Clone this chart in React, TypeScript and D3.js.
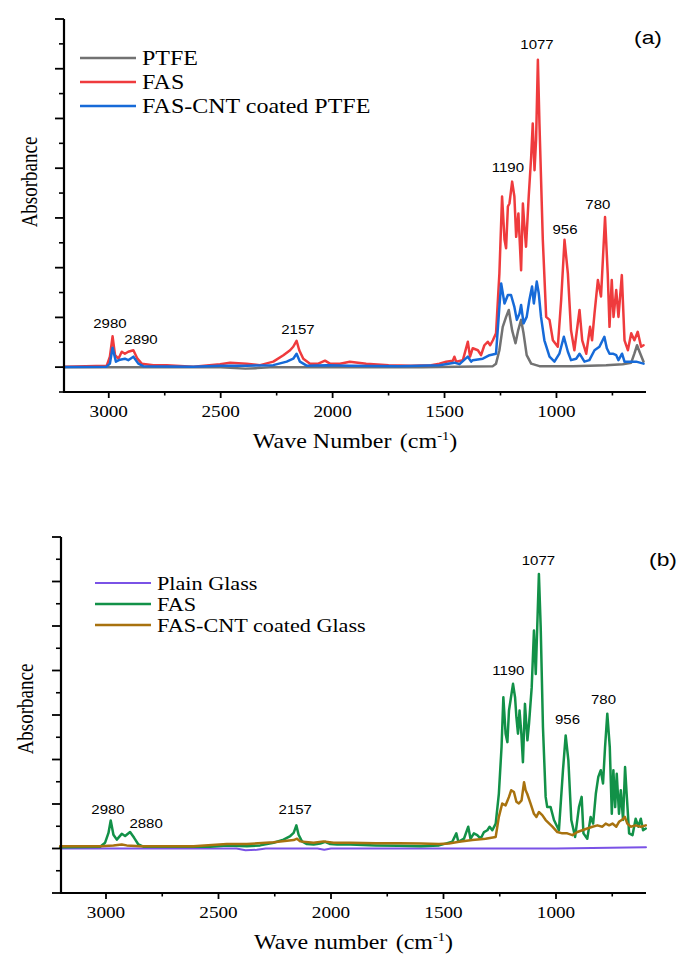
import React from 'react';
import * as d3 from 'd3';

type Pt = [number, number];

// ---- panel (a): PTFE ----
const ptfeA: Pt[] = [
  [3200, 0], [2500, 0], [2390, -0.03], [2340, -0.02], [2280, 0], [1600, 0], [1284, 0.02],
  [1270, 0.07], [1255, 0.34], [1240, 0.81], [1225, 1.01], [1213, 1.15], [1198, 0.74], [1183, 0.48],
  [1171, 0.74], [1158, 0.95], [1147, 0.68], [1133, 0.24], [1113, 0.07], [1076, 0.02], [927, 0.02],
  [778, 0.04], [704, 0.06], [666, 0.09], [652, 0.27], [640, 0.44], [629, 0.31], [611, 0.11],
];

const fasA: Pt[] = [
  [3200, 0.01], [3009, 0.03], [2995, 0.21], [2983, 0.62], [2972, 0.24], [2957, 0.17], [2942, 0.31],
  [2928, 0.27], [2913, 0.31], [2890, 0.34], [2872, 0.17], [2853, 0.07], [2801, 0.04], [2741, 0.04],
  [2622, 0.01], [2503, 0.06], [2458, 0.09], [2384, 0.07], [2324, 0.04], [2265, 0.11], [2220, 0.24],
  [2190, 0.34], [2176, 0.41], [2161, 0.53], [2149, 0.34], [2131, 0.17], [2101, 0.07], [2064, 0.07],
  [2034, 0.13], [2012, 0.07], [1967, 0.07], [1923, 0.11], [1850, 0.07], [1750, 0.04], [1650, 0.03],
  [1560, 0.04], [1523, 0.07], [1493, 0.11], [1463, 0.13], [1456, 0.21], [1448, 0.11], [1418, 0.14],
  [1396, 0.51], [1386, 0.21], [1374, 0.38], [1351, 0.34], [1337, 0.24], [1322, 0.44], [1307, 0.51],
  [1296, 0.44], [1284, 0.54], [1270, 0.68], [1255, 1.88], [1243, 3.43], [1232, 2.56], [1225, 2.39],
  [1217, 3.23], [1210, 3.29], [1198, 3.73], [1188, 3.43], [1180, 2.62], [1170, 3.09], [1158, 1.95],
  [1150, 3.29], [1143, 2.82], [1136, 2.42], [1124, 3.43], [1113, 4.23], [1106, 4.9], [1098, 3.96],
  [1091, 4.57], [1083, 6.18], [1076, 4.9], [1061, 2.56], [1046, 1.01], [1031, 0.95], [1016, 0.54],
  [994, 0.41], [979, 1.35], [964, 2.56], [949, 1.88], [935, 0.74], [920, 0.34], [897, 1.15],
  [885, 0.54], [867, 0.27], [850, 0.81], [841, 0.54], [830, 1.08], [815, 1.75], [801, 1.42],
  [783, 3.02], [771, 1.88], [763, 0.81], [753, 1.75], [745, 1.01], [733, 1.55], [723, 1.01],
  [708, 1.85], [696, 0.54], [681, 0.34], [666, 0.68], [652, 0.54], [637, 0.71], [622, 0.41], [611, 0.44],
];

const cntPtfeA: Pt[] = [
  [3200, 0.005], [3010, 0.01], [2995, 0.07], [2983, 0.39], [2968, 0.11], [2950, 0.15], [2928, 0.17],
  [2913, 0.14], [2890, 0.21], [2868, 0.07], [2846, 0.02], [2622, 0.01], [2503, 0.03], [2384, 0.03],
  [2265, 0.04], [2205, 0.11], [2176, 0.17], [2161, 0.27], [2146, 0.11], [2116, 0.03], [2027, 0.04],
  [1923, 0.03], [1700, 0.02], [1523, 0.04], [1456, 0.09], [1433, 0.06], [1396, 0.21], [1381, 0.11],
  [1374, 0.14], [1329, 0.17], [1299, 0.24], [1270, 0.27], [1255, 1.21], [1247, 1.68], [1232, 1.28],
  [1217, 1.45], [1203, 1.45], [1188, 1.21], [1177, 0.95], [1165, 1.08], [1158, 1.25], [1147, 0.88],
  [1133, 1.01], [1121, 1.35], [1109, 1.62], [1101, 1.28], [1088, 1.72], [1079, 1.48], [1069, 1.01],
  [1054, 0.54], [1031, 0.21], [1009, 0.11], [987, 0.27], [967, 0.61], [949, 0.31], [935, 0.14],
  [912, 0.17], [897, 0.27], [875, 0.11], [853, 0.14], [830, 0.34], [808, 0.41], [786, 0.61],
  [775, 0.38], [763, 0.27], [748, 0.27], [733, 0.24], [723, 0.14], [707, 0.27], [696, 0.11],
  [644, 0.11], [611, 0.07],
];

// ---- panel (b): glass ----
const glassB: Pt[] = [
  [3200, 0], [2420, 0], [2380, -0.04], [2330, -0.03], [2290, 0], [2060, 0], [2030, -0.03],
  [2000, 0], [1000, 0], [600, 0.03],
];

const fasB: Pt[] = [
  [3204, 0.03], [3026, 0.04], [3004, 0.13], [2989, 0.35], [2979, 0.63], [2967, 0.31], [2952, 0.2],
  [2930, 0.33], [2915, 0.28], [2893, 0.37], [2875, 0.24], [2856, 0.09], [2834, 0.04], [2685, 0.04],
  [2537, 0.04], [2463, 0.07], [2374, 0.05], [2315, 0.07], [2255, 0.13], [2211, 0.2], [2181, 0.28],
  [2166, 0.35], [2154, 0.52], [2144, 0.31], [2129, 0.16], [2107, 0.1], [2077, 0.09], [2048, 0.11],
  [2026, 0.15], [2003, 0.1], [1973, 0.09], [1914, 0.09], [1800, 0.07], [1700, 0.06], [1600, 0.05],
  [1520, 0.07], [1491, 0.11], [1461, 0.15], [1443, 0.34], [1434, 0.15], [1409, 0.22], [1390, 0.49],
  [1380, 0.22], [1365, 0.34], [1350, 0.3], [1335, 0.22], [1320, 0.37], [1305, 0.41], [1295, 0.49],
  [1283, 0.41], [1268, 0.56], [1254, 1.23], [1242, 2.28], [1234, 3.4], [1224, 2.58], [1216, 2.39],
  [1209, 3.1], [1202, 3.33], [1191, 3.7], [1182, 3.4], [1176, 2.95], [1169, 2.58], [1162, 3.1],
  [1154, 2.58], [1147, 1.94], [1138, 3.25], [1127, 2.43], [1120, 2.8], [1108, 3.62], [1098, 4.9],
  [1090, 3.92], [1083, 5.04], [1076, 6.17], [1068, 4.97], [1058, 2.73], [1046, 1.16], [1039, 0.93],
  [1024, 0.93], [1009, 0.64], [987, 0.41], [969, 1.76], [957, 2.54], [945, 1.98], [932, 0.64],
  [915, 0.26], [898, 0.93], [886, 1.16], [878, 0.34], [861, 0.22], [846, 0.71], [835, 0.56],
  [823, 1.23], [812, 1.61], [801, 1.76], [791, 1.46], [782, 2.28], [772, 3.03], [761, 2.28],
  [752, 0.78], [745, 1.76], [737, 0.93], [730, 1.68], [720, 0.78], [712, 1.31], [702, 0.64],
  [693, 1.83], [686, 1.23], [675, 0.34], [660, 0.3], [646, 0.67], [634, 0.49], [623, 0.67],
  [613, 0.41], [601, 0.45],
];

const cntGlassB: Pt[] = [
  [3204, 0.05], [3026, 0.05], [2967, 0.07], [2930, 0.09], [2908, 0.07], [2848, 0.05], [2611, 0.05],
  [2463, 0.1], [2374, 0.1], [2255, 0.14], [2166, 0.19], [2151, 0.22], [2137, 0.16], [2077, 0.13],
  [2033, 0.16], [1988, 0.13], [1914, 0.13], [1800, 0.12], [1700, 0.12], [1600, 0.11], [1520, 0.1],
  [1476, 0.11], [1431, 0.15], [1372, 0.19], [1313, 0.22], [1268, 0.26], [1254, 0.71], [1239, 1.01],
  [1224, 0.97], [1209, 1.16], [1199, 1.31], [1187, 1.27], [1176, 1.05], [1165, 1.01], [1153, 1.08],
  [1142, 1.49], [1135, 1.31], [1128, 1.23], [1113, 1.01], [1098, 0.78], [1087, 0.71], [1076, 0.82],
  [1061, 0.75], [1046, 0.64], [1016, 0.49], [994, 0.37], [972, 0.34], [950, 0.34], [927, 0.3],
  [905, 0.37], [883, 0.41], [861, 0.45], [838, 0.49], [816, 0.52], [794, 0.49], [779, 0.56],
  [764, 0.52], [749, 0.56], [732, 0.49], [720, 0.6], [705, 0.65], [694, 0.71], [683, 0.56],
  [668, 0.49], [646, 0.52], [623, 0.49], [601, 0.52],
];

const xMajorTicks = [3000, 2500, 2000, 1500, 1000];
const xMinorTicks = [2750, 2250, 1750, 1250, 750];

const legendA = ['PTFE', 'FAS', 'FAS-CNT coated PTFE'];
const legendB = ['Plain Glass', 'FAS', 'FAS-CNT coated Glass'];

// peak labels: [text, wavenumber, absorbance]
const labelsA: [string, number, number][] = [
  ['2980', 2995, 0.885], ['2890', 2856, 0.56], ['2157', 2155, 0.76], ['1190', 1217, 4.02],
  ['1077', 1087, 6.48], ['956', 962, 2.76], ['780', 815, 3.28],
];
const labelsB: [string, number, number][] = [
  ['2980', 2991, 0.87], ['2880', 2822, 0.56], ['2157', 2159, 0.87], ['1190', 1212, 4.01],
  ['1077', 1078, 6.48], ['956', 949, 2.89], ['780', 789, 3.34],
];

const SERIF = '"Liberation Serif", "Times New Roman", serif';
const SANS = '"Liberation Sans", Arial, sans-serif';

// the original figure is stretched about 1.2x horizontally, text included
function SText({ x, y, size, family, anchor = 'start', rotate = 0, children }: any) {
  return (
    <g transform={`translate(${x},${y}) scale(1.2,1)${rotate ? ` rotate(${rotate})` : ''}`}>
      <text textAnchor={anchor} fontSize={size} fontFamily={family} fontWeight="normal" fill="#000">{children}</text>
    </g>
  );
}

function Panel({ x0, yDomain, yRange, series, colors, widths, legend, legendX, legendY, legendGap, legendSize,
  labels, tag, title, yTitleX, yTitleY }: any) {
  const x = d3.scaleLinear().domain([3200, 600]).range([x0, 646]);
  const y = d3.scaleLinear().domain(yDomain).range(yRange);
  const line = d3.line<Pt>().x(d => x(d[0])).y(d => y(d[1]));
  const yBottom = yRange[0];
  const yMajor = d3.range(Math.ceil(yDomain[0]), yDomain[1] + 0.01, 1);
  const yMinor = d3.range(yDomain[0], yDomain[1], 0.5).filter(v => !Number.isInteger(v));

  return (
    <g>
      {series.map((s: Pt[], i: number) => (
        <path key={i} d={line(s) || ''} fill="none" stroke={colors[i]} strokeWidth={widths[i]}
          strokeLinejoin="round" strokeLinecap="round" />
      ))}
      {/* axes */}
      <line x1={x0} x2={x0} y1={yRange[1]} y2={yBottom + 1} stroke="#000" strokeWidth={2.2} />
      <line x1={x0 - 1} x2={646} y1={yBottom} y2={yBottom} stroke="#000" strokeWidth={2.2} />
      {yMajor.map(v => <line key={'ym' + v} x1={x0 - 9} x2={x0} y1={y(v)} y2={y(v)} stroke="#000" strokeWidth={1.8} />)}
      {yMinor.map(v => <line key={'yn' + v} x1={x0 - 5} x2={x0} y1={y(v)} y2={y(v)} stroke="#000" strokeWidth={1.6} />)}
      {xMajorTicks.map(t => <line key={'xm' + t} x1={x(t)} x2={x(t)} y1={yBottom} y2={yBottom + 6} stroke="#000" strokeWidth={1.8} />)}
      {xMinorTicks.map(t => <line key={'xn' + t} x1={x(t)} x2={x(t)} y1={yBottom} y2={yBottom + 3.5} stroke="#000" strokeWidth={1.6} />)}
      {xMajorTicks.map(t => (
        <SText key={'xl' + t} x={x(t)} y={yBottom + 25} size={16} family={SERIF} anchor="middle">{t}</SText>
      ))}
      <SText x={(x0 + 646) / 2} y={yBottom + 56} size={20} family={SERIF} anchor="middle">
        {title}<tspan dx="2">(cm</tspan><tspan fontSize={12} dy="-8">-1</tspan><tspan dy="8">)</tspan>
      </SText>
      <SText x={yTitleX} y={yTitleY} size={19} family={SERIF} anchor="middle" rotate={-90}>Absorbance</SText>
      {/* legend */}
      {legend.map((name: string, i: number) => (
        <g key={name}>
          <line x1={legendX} x2={legendX + 56} y1={legendY + i * legendGap} y2={legendY + i * legendGap}
            stroke={colors[i]} strokeWidth={widths[i]} />
          <SText x={legendX + 62} y={legendY + i * legendGap + 7} size={legendSize} family={SERIF}>{name}</SText>
        </g>
      ))}
      {labels.map(([t, w, v]: [string, number, number]) => (
        <SText key={t} x={x(w)} y={y(v) + 4.5} size={12.5} family={SANS} anchor="middle">{t}</SText>
      ))}
      <SText x={tag[1]} y={tag[2]} size={19} family={SANS} anchor="middle">{tag[0]}</SText>
    </g>
  );
}

export default function App() {
  return (
    <svg width={686} height={966} style={{ position: 'absolute', left: 0, top: 0, background: '#fff' }}>
      <rect width={686} height={966} fill="#fff" />
      <Panel x0={64} yDomain={[-0.5, 7]} yRange={[392, 19]}
        series={[ptfeA, fasA, cntPtfeA]} colors={['#727272', '#ef3b3d', '#166ad8']} widths={[2.5, 2.5, 2.5]}
        legend={legendA} legendX={80} legendY={58} legendGap={24} legendSize={20}
        labels={labelsA} tag={['(a)', 648, 44]} title="Wave Number " yTitleX={37} yTitleY={182} />
      <Panel x0={61} yDomain={[-1, 7]} yRange={[893, 537]}
        series={[glassB, fasB, cntGlassB]} colors={['#7a52e6', '#129148', '#a8720f']} widths={[2, 2.5, 2.5]}
        legend={legendB} legendX={95} legendY={583} legendGap={21} legendSize={18.5}
        labels={labelsB} tag={['(b)', 663, 566]} title="Wave number " yTitleX={33} yTitleY={709} />
    </svg>
  );
}
